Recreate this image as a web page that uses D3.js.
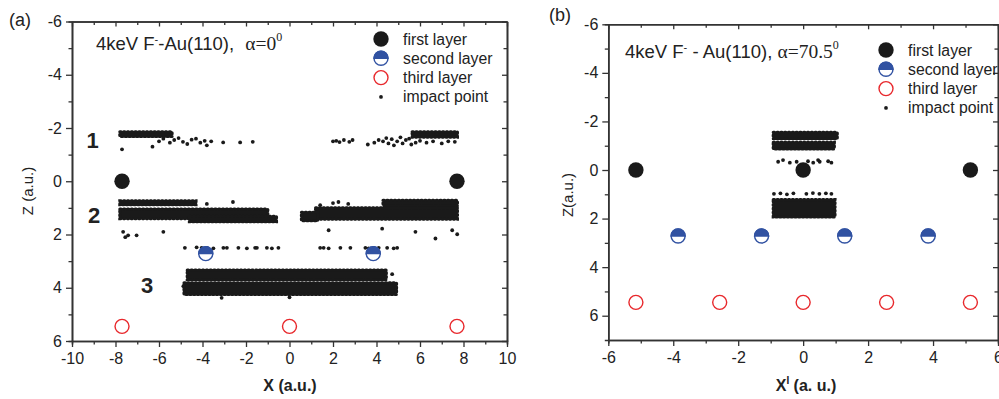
<!DOCTYPE html>
<html>
<head>
<meta charset="utf-8">
<script src="https://cdn.jsdelivr.net/npm/d3@7"></script>
<style>
  body { margin: 0; background: #fff; }
  svg { display: block; font-family: "Liberation Sans", Arial, sans-serif; }
</style>
</head>
<body>
<div id="chart"></div>
<script>
// ---- panel (a): alpha = 0 ----
const firstA = [[-7.7, 0], [7.7, 0]];
const secondA = [[-3.85, 2.72], [3.85, 2.72]];
const thirdA = [[-7.7, 5.45], [0, 5.45], [7.7, 5.45]];
// dense impact bands [x0, x1, z0, z1]
const bandsA = [
  [-7.8, -5.4, -1.86, -1.68],
  [5.64, 7.72, -1.86, -1.66],
  [-7.8, -4.3, 0.74, 0.88],
  [-7.8, -1.0, 1.05, 1.4],
  [-4.6, -0.6, 1.32, 1.52],
  [4.3, 7.72, 0.72, 0.92],
  [1.2, 7.72, 1.0, 1.42],
  [0.55, 1.3, 1.17, 1.48],
  [-4.7, 4.45, 3.34, 3.7],
  [-4.85, 4.92, 3.82, 4.25]
];
// single impact points [x, z]
const pointsA = [
  [-7.7, -1.2], [-6.3, -1.3], [-6.0, -1.5], [-5.8, -1.6], [-5.5, -1.45], [-5.3, -1.55],
  [-5.1, -1.62], [-4.9, -1.48], [-4.7, -1.4], [-4.5, -1.56], [-4.3, -1.6], [-4.1, -1.45],
  [-3.9, -1.52], [-3.8, -1.35], [-3.6, -1.5], [-3.05, -1.46], [-2.27, -1.46], [-1.69, -1.48],
  [2.0, -1.5], [2.15, -1.52], [2.3, -1.47], [2.5, -1.55], [2.75, -1.48], [2.9, -1.55],
  [3.6, -1.38], [3.9, -1.45], [4.1, -1.55], [4.3, -1.5], [4.45, -1.62], [4.55, -1.42],
  [4.7, -1.58], [4.8, -1.35], [4.95, -1.5], [5.1, -1.65], [5.2, -1.42], [5.35, -1.55],
  [5.5, -1.6], [5.6, -1.38], [5.8, -1.45], [6.0, -1.52], [6.3, -1.45], [6.6, -1.5],
  [7.0, -1.42], [7.3, -1.5], [7.6, -1.48],
  [-7.65, 1.9], [-7.42, 2.03], [-7.55, 2.1], [-7.03, 2.03], [-5.8, 1.9], [-3.8, 0.85], [-2.6, 0.78],
  [-4.81, 2.5], [-4.27, 2.48], [-4.04, 2.5], [-3.81, 2.5], [-3.5, 2.52], [-3.04, 2.5], [-2.88, 2.5],
  [-2.35, 2.5], [-1.96, 2.52], [-1.58, 2.5], [-1.5, 2.5], [-1.04, 2.5], [-0.81, 2.52], [-0.51, 2.5],
  [1.41, 2.5], [1.57, 2.5], [1.8, 2.52], [2.34, 2.5], [2.8, 2.5], [3.49, 2.5], [3.64, 2.52],
  [3.87, 2.5], [4.1, 2.5], [4.49, 2.5], [4.79, 2.52], [4.95, 2.5],
  [1.8, 1.84], [4.26, 1.78], [5.79, 1.9], [6.71, 2.15], [7.48, 1.84], [7.71, 1.99],
  [1.41, 0.9], [2.0, 0.82], [2.25, 0.78], [2.7, 0.85],
  [-3.12, 4.38], [0, 4.36], [-4.88, 3.94], [4.72, 3.49], [4.9, 4.1]
];

// ---- panel (b): alpha = 70.5 ----
const firstB = [[-5.15, 0], [0, 0], [5.15, 0]];
const secondB = [[-3.85, 2.72], [-1.28, 2.72], [1.28, 2.72], [3.85, 2.72]];
const thirdB = [[-5.15, 5.45], [-2.57, 5.45], [0, 5.45], [2.57, 5.45], [5.15, 5.45]];
const bandsB = [
  [-0.92, 1.05, -1.55, -1.29],
  [-0.92, 0.96, -1.14, -0.87],
  [-0.92, 0.98, 1.22, 1.93]
];
const pointsB = [
  [-0.77, -0.34], [-0.62, -0.41], [-0.41, -0.3], [-0.2, -0.34], [0.15, -0.36], [0.31, -0.3],
  [0.46, -0.41], [0.51, -0.34], [0.77, -0.36], [0.87, -0.3],
  [-0.9, 0.98], [-0.7, 0.96], [-0.5, 1.0], [-0.3, 0.96], [0.1, 0.98], [0.3, 0.95],
  [0.5, 0.98], [0.7, 0.96], [0.87, 0.98]
];

const majorA = [-10, -8, -6, -4, -2, 0, 2, 4, 6, 8, 10];
const minorA = [-9, -7, -5, -3, -1, 1, 3, 5, 7, 9];
const majorB = [-6, -4, -2, 0, 2, 4, 6];
const minorB = [-5, -3, -1, 1, 3, 5];
const majorZ = [-6, -4, -2, 0, 2, 4, 6];
const minorZ = [-5, -3, -1, 1, 3, 5];

const legendLabels = ['first layer', 'second layer', 'third layer', 'impact point'];

const BLACK = '#1a1a1a';
const BLUE = '#3152a2';
const RED = '#e8282c';
const AXIS = '#333';
const SERIF = '"Liberation Serif", "Times New Roman", serif';

const svg = d3.select('#chart').append('svg')
  .attr('width', 999).attr('height', 399);
svg.append('rect').attr('width', 999).attr('height', 399).attr('fill', '#fff');

function firstAtom(g, cx, cy) {
  g.append('circle').attr('cx', cx).attr('cy', cy).attr('r', 7.7).attr('fill', BLACK);
}
function secondAtom(g, cx, cy) {
  const r = 7;
  g.append('circle').attr('cx', cx).attr('cy', cy).attr('r', r)
    .attr('fill', '#fff').attr('stroke', BLUE).attr('stroke-width', 1.4);
  g.append('path')
    .attr('d', `M${cx - r},${cy} A${r},${r} 0 0 1 ${cx + r},${cy} Z`)
    .attr('fill', BLUE).attr('stroke', BLUE).attr('stroke-width', 1.4);
}
function thirdAtom(g, cx, cy) {
  g.append('circle').attr('cx', cx).attr('cy', cy).attr('r', 7)
    .attr('fill', 'none').attr('stroke', RED).attr('stroke-width', 1.4);
}
function impact(g, cx, cy) {
  g.append('circle').attr('cx', cx).attr('cy', cy).attr('r', 1.9).attr('fill', BLACK);
}

function drawPanel(p) {
  const g = svg.append('g');
  const x = p.x, z = p.z;
  const [x0, x1] = x.range();
  const [z0, z1] = z.range();

  function styleAxis(sel) {
    sel.select('.domain').attr('stroke', AXIS).attr('stroke-width', 1.6);
    sel.selectAll('line').attr('stroke', AXIS).attr('stroke-width', 1.3);
    sel.selectAll('text').attr('fill', '#222').attr('font-size', 16)
      .attr('font-family', '"Liberation Sans", Arial, sans-serif');
  }
  const fmt = d => String(d);
  g.append('g').attr('transform', `translate(0,${z1})`)
    .call(d3.axisBottom(x).tickValues(p.majorX).tickFormat(fmt).tickSize(6).tickPadding(6).tickSizeOuter(0))
    .call(styleAxis);
  g.append('g').attr('transform', `translate(0,${z1})`)
    .call(d3.axisBottom(x).tickValues(p.minorX).tickSize(3.5).tickFormat(''))
    .call(styleAxis);
  g.append('g').attr('transform', `translate(${x0},0)`)
    .call(d3.axisLeft(z).tickValues(majorZ).tickFormat(fmt).tickSize(6).tickPadding(4).tickSizeOuter(0))
    .call(styleAxis);
  g.append('g').attr('transform', `translate(${x0},0)`)
    .call(d3.axisLeft(z).tickValues(minorZ).tickSize(3.5).tickFormat(''))
    .call(styleAxis);
  // mirror axes, ticks pointing inward
  g.append('g').attr('transform', `translate(0,${z0})`)
    .call(d3.axisBottom(x).tickValues(p.majorX).tickSize(5).tickFormat('').tickSizeOuter(0))
    .call(styleAxis);
  g.append('g').attr('transform', `translate(0,${z0})`)
    .call(d3.axisBottom(x).tickValues(p.minorX).tickSize(3.5).tickFormat('').tickSizeOuter(0))
    .call(styleAxis);
  g.append('g').attr('transform', `translate(${x1},0)`)
    .call(d3.axisLeft(z).tickValues(majorZ).tickSize(5).tickFormat('').tickSizeOuter(0))
    .call(styleAxis);
  g.append('g').attr('transform', `translate(${x1},0)`)
    .call(d3.axisLeft(z).tickValues(minorZ).tickSize(3.5).tickFormat('').tickSizeOuter(0))
    .call(styleAxis);

  // dense impact bands, with a dotted rim so the edge reads as a cloud of points
  g.append('g').selectAll('rect').data(p.bands).join('rect')
    .attr('x', d => x(d[0])).attr('width', d => x(d[1]) - x(d[0]))
    .attr('y', d => z(d[2])).attr('height', d => z(d[3]) - z(d[2]))
    .attr('fill', BLACK).attr('stroke', BLACK).attr('stroke-width', 3.2)
    .attr('stroke-dasharray', '1.2,2.6').attr('stroke-linecap', 'round');
  const pg = g.append('g');
  p.points.forEach(d => impact(pg, x(d[0]), z(d[1])));

  // atoms
  p.first.forEach(d => firstAtom(g, x(d[0]), z(d[1])));
  p.second.forEach(d => secondAtom(g, x(d[0]), z(d[1])));
  p.third.forEach(d => thirdAtom(g, x(d[0]), z(d[1])));

  // legend
  const lg = g.append('g');
  const drawers = [firstAtom, secondAtom, thirdAtom, impact];
  legendLabels.forEach((t, i) => {
    const ly = p.legend.y + i * 19.3;
    drawers[i](lg, p.legend.x, ly);
    lg.append('text').attr('x', p.legend.x + 22).attr('y', ly + 5.5)
      .attr('font-size', 15.8).attr('fill', '#222').text(t);
  });

  // title
  const t = g.append('text').attr('x', p.title.x).attr('y', p.title.y)
    .attr('font-size', 18.5).attr('fill', '#222');
  t.append('tspan').text('4keV F');
  t.append('tspan').attr('font-size', 11).attr('dy', -7).text('-');
  t.append('tspan').attr('dy', 7).text(p.title.mid);
  t.append('tspan').attr('dx', p.title.adx).attr('font-family', SERIF)
    .attr('font-size', 19.5).text(p.title.alpha);
  t.append('tspan').attr('font-family', SERIF)
    .attr('font-size', 12).attr('dy', -9).text('0');

  // axis titles
  g.append('text')
    .attr('transform', `translate(${p.zTitle.x},${p.zTitle.y}) rotate(-90)`)
    .attr('text-anchor', 'middle').attr('font-size', 15).attr('fill', '#222')
    .text(p.zTitle.text);
  const xt = g.append('text').attr('x', p.xTitle.x).attr('y', 391)
    .attr('text-anchor', 'middle').attr('font-size', 16).attr('font-weight', 'bold')
    .attr('fill', '#222');
  xt.append('tspan').text('X');
  if (p.xTitle.prime) {
    xt.append('tspan').attr('font-size', 10).attr('dy', -7).text('I');
    xt.append('tspan').attr('dy', 7).text(' (a. u.)');
  } else {
    xt.append('tspan').text(' (a.u.)');
  }

  // panel tag
  g.append('text').attr('x', p.tag.x).attr('y', p.tag.y)
    .attr('font-size', 18).attr('fill', '#222').text(p.tag.text);
}

drawPanel({
  x: d3.scaleLinear().domain([-10, 10]).range([72, 507]),
  z: d3.scaleLinear().domain([-6, 6]).range([21.5, 341]),
  majorX: majorA, minorX: minorA,
  bands: bandsA, points: pointsA,
  first: firstA, second: secondA, third: thirdA,
  legend: { x: 381, y: 39 },
  title: { x: 96, y: 50, mid: '-Au(110), ', adx: 6, alpha: 'α=0' },
  zTitle: { x: 33, y: 191, text: 'Z (a.u.)' },
  xTitle: { x: 290 },
  tag: { x: 9, y: 26, text: '(a)' }
});

drawPanel({
  x: d3.scaleLinear().domain([-6, 6]).range([608.3, 998]),
  z: d3.scaleLinear().domain([-6, 7]).range([24.3, 340]),
  majorX: majorB, minorX: minorB,
  bands: bandsB, points: pointsB,
  first: firstB, second: secondB, third: thirdB,
  legend: { x: 886, y: 50 },
  title: { x: 625, y: 58, mid: ' - Au(110), ', adx: 0, alpha: 'α=70.5' },
  zTitle: { x: 573, y: 195, text: 'Z(a.u.)' },
  xTitle: { x: 806, prime: true },
  tag: { x: 549, y: 21, text: '(b)' }
});

// layer numbers in panel (a)
const layerNums = ['1', '2', '3'];
const layerPos = [[92.5, 148], [94, 223], [147, 292.5]];
svg.append('g').selectAll('text').data(layerNums).join('text')
  .attr('x', (d, i) => layerPos[i][0]).attr('y', (d, i) => layerPos[i][1])
  .attr('text-anchor', 'middle').attr('font-size', 22).attr('font-weight', 'bold')
  .attr('fill', '#222').text(d => d);
</script>
</body>
</html>
